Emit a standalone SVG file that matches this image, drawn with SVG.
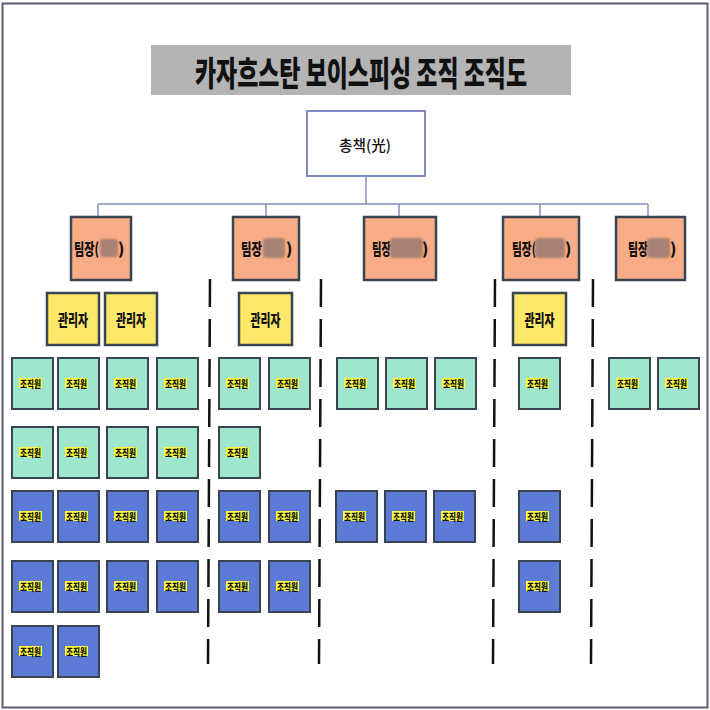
<svg xmlns="http://www.w3.org/2000/svg" width="710" height="710" viewBox="0 0 710 710">
<style>
  text { font-family: "Noto Sans CJK KR", "Noto Sans", sans-serif; font-weight: 700; fill: #111; text-anchor: middle; dominant-baseline: central; }
  .title { font-size: 34px; font-weight: 900; }
  .top { fill: #ffffff; stroke: #7f8cc8; stroke-width: 2; }
  .topt { font-size: 15px; font-weight: 500; }
  .lead { fill: #f9ad86; stroke: #3a4450; stroke-width: 2.5; }
  .leadt { font-size: 16px; font-weight: 900; text-anchor: start; }
  .blur { fill: #a88272; filter: url(#bl); }
  .mgr { fill: #fde86a; stroke: #3a4450; stroke-width: 2.5; }
  .mgrt { font-size: 16px; font-weight: 900; }
  .g { fill: #a0e6cc; stroke: #3a4450; stroke-width: 2; }
  .b { fill: #5b7bd6; stroke: #3a4450; stroke-width: 2; }
  .hl { fill: #ffff3c; }
  .mt { font-size: 10px; font-weight: 900; }
  .conn { stroke: #8890b8; stroke-width: 1.5; fill: none; }
  .dash { stroke: #111; stroke-width: 2.5; stroke-dasharray: 28 12; fill: none; }
</style>
<defs>
  <filter id="bl" x="-30%" y="-30%" width="160%" height="160%"><feGaussianBlur stdDeviation="1"/></filter>
  <g id="mlabel">
    <rect class="hl" x="7" y="20" width="23" height="10"/>
    <text class="mt" x="18.5" y="25" textLength="21" lengthAdjust="spacingAndGlyphs">조직원</text>
  </g>
</defs>
<rect x="2.5" y="3.5" width="705" height="704" fill="#ffffff" stroke="#5a6070" stroke-width="2"/>

<g id="title">
  <rect x="151" y="45" width="420" height="50" fill="#b4b4b4"/>
  <text class="title" x="361" y="71" textLength="332" lengthAdjust="spacingAndGlyphs">카자흐스탄 보이스피싱 조직 조직도</text>
</g>

<g id="connectors">
  <line class="conn" x1="366" y1="176" x2="366" y2="204"/>
  <line class="conn" x1="98" y1="204" x2="648" y2="204"/>
  <line class="conn" x1="98" y1="204" x2="98" y2="217"/>
  <line class="conn" x1="266" y1="204" x2="266" y2="217"/>
  <line class="conn" x1="399" y1="204" x2="399" y2="217"/>
  <line class="conn" x1="540" y1="204" x2="540" y2="217"/>
  <line class="conn" x1="648" y1="204" x2="648" y2="217"/>
  <line class="dash" x1="210" y1="279" x2="208" y2="664"/>
  <line class="dash" x1="321" y1="279" x2="319" y2="664"/>
  <line class="dash" x1="495" y1="279" x2="493" y2="664"/>
  <line class="dash" x1="593" y1="279" x2="591" y2="664"/>
</g>

<g id="boss">
  <rect class="top" x="307" y="111" width="118" height="65"/>
  <text class="topt" x="365" y="144" textLength="52" lengthAdjust="spacingAndGlyphs">총책(光)</text>
</g>

<g id="leader1">
  <rect class="lead" x="71" y="217" width="60" height="63"/>
  <text class="leadt" x="74" y="248" textLength="25" lengthAdjust="spacingAndGlyphs">팀장(</text>
  <rect class="blur" x="100" y="239" width="18" height="18" rx="3"/>
  <text class="leadt" x="118" y="248">)</text>
</g>
<g id="leader2">
  <rect class="lead" x="233" y="217" width="66" height="63"/>
  <text class="leadt" x="241" y="248" textLength="21" lengthAdjust="spacingAndGlyphs">팀장</text>
  <rect class="blur" x="263" y="238" width="22" height="20" rx="3"/>
  <text class="leadt" x="286" y="248">)</text>
</g>
<g id="leader3">
  <rect class="lead" x="364" y="217" width="72" height="63"/>
  <text class="leadt" x="372" y="248" textLength="19" lengthAdjust="spacingAndGlyphs">팀장</text>
  <rect class="blur" x="390" y="238" width="33" height="20" rx="4"/>
  <text class="leadt" x="422" y="248">)</text>
</g>
<g id="leader4">
  <rect class="lead" x="503" y="217" width="76" height="63"/>
  <text class="leadt" x="512" y="248" textLength="24" lengthAdjust="spacingAndGlyphs">팀장(</text>
  <rect class="blur" x="535" y="238" width="30" height="20" rx="4"/>
  <text class="leadt" x="565" y="248">)</text>
</g>
<g id="leader5">
  <rect class="lead" x="616" y="217" width="69" height="63"/>
  <text class="leadt" x="628" y="248" textLength="20" lengthAdjust="spacingAndGlyphs">팀장</text>
  <rect class="blur" x="647" y="238" width="23" height="20" rx="3"/>
  <text class="leadt" x="670" y="248">)</text>
</g>

<g id="manager1"><rect class="mgr" x="47" y="293" width="52" height="52"/><text class="mgrt" x="73" y="319" textLength="30" lengthAdjust="spacingAndGlyphs">관리자</text></g>
<g id="manager2"><rect class="mgr" x="105" y="293" width="52" height="52"/><text class="mgrt" x="131" y="319" textLength="30" lengthAdjust="spacingAndGlyphs">관리자</text></g>
<g id="manager3"><rect class="mgr" x="239" y="293" width="53" height="52"/><text class="mgrt" x="265.5" y="319" textLength="30" lengthAdjust="spacingAndGlyphs">관리자</text></g>
<g id="manager4"><rect class="mgr" x="513" y="293" width="53" height="52"/><text class="mgrt" x="539.5" y="319" textLength="30" lengthAdjust="spacingAndGlyphs">관리자</text></g>

<g id="members-row1">
  <g id="m1-1" transform="translate(12,358)"><rect class="g" width="41" height="51"/><use href="#mlabel"/></g>
  <g id="m1-2" transform="translate(58,358)"><rect class="g" width="41" height="51"/><use href="#mlabel"/></g>
  <g id="m1-3" transform="translate(107,358)"><rect class="g" width="41" height="51"/><use href="#mlabel"/></g>
  <g id="m1-4" transform="translate(157,358)"><rect class="g" width="41" height="51"/><use href="#mlabel"/></g>
  <g id="m1-5" transform="translate(219,358)"><rect class="g" width="41" height="51"/><use href="#mlabel"/></g>
  <g id="m1-6" transform="translate(269,358)"><rect class="g" width="41" height="51"/><use href="#mlabel"/></g>
  <g id="m1-7" transform="translate(337,358)"><rect class="g" width="41" height="51"/><use href="#mlabel"/></g>
  <g id="m1-8" transform="translate(386,358)"><rect class="g" width="41" height="51"/><use href="#mlabel"/></g>
  <g id="m1-9" transform="translate(435,358)"><rect class="g" width="41" height="51"/><use href="#mlabel"/></g>
  <g id="m1-10" transform="translate(519,358)"><rect class="g" width="41" height="51"/><use href="#mlabel"/></g>
  <g id="m1-11" transform="translate(609,358)"><rect class="g" width="41" height="51"/><use href="#mlabel"/></g>
  <g id="m1-12" transform="translate(658,358)"><rect class="g" width="41" height="51"/><use href="#mlabel"/></g>
</g>
<g id="members-row2">
  <g id="m2-1" transform="translate(12,427)"><rect class="g" width="41" height="51"/><use href="#mlabel"/></g>
  <g id="m2-2" transform="translate(58,427)"><rect class="g" width="41" height="51"/><use href="#mlabel"/></g>
  <g id="m2-3" transform="translate(107,427)"><rect class="g" width="41" height="51"/><use href="#mlabel"/></g>
  <g id="m2-4" transform="translate(157,427)"><rect class="g" width="41" height="51"/><use href="#mlabel"/></g>
  <g id="m2-5" transform="translate(219,427)"><rect class="g" width="41" height="51"/><use href="#mlabel"/></g>
</g>
<g id="members-row3">
  <g id="m3-1" transform="translate(12,491)"><rect class="b" width="41" height="51"/><use href="#mlabel"/></g>
  <g id="m3-2" transform="translate(58,491)"><rect class="b" width="41" height="51"/><use href="#mlabel"/></g>
  <g id="m3-3" transform="translate(107,491)"><rect class="b" width="41" height="51"/><use href="#mlabel"/></g>
  <g id="m3-4" transform="translate(157,491)"><rect class="b" width="41" height="51"/><use href="#mlabel"/></g>
  <g id="m3-5" transform="translate(219,491)"><rect class="b" width="41" height="51"/><use href="#mlabel"/></g>
  <g id="m3-6" transform="translate(269,491)"><rect class="b" width="41" height="51"/><use href="#mlabel"/></g>
  <g id="m3-7" transform="translate(336,491)"><rect class="b" width="41" height="51"/><use href="#mlabel"/></g>
  <g id="m3-8" transform="translate(385,491)"><rect class="b" width="41" height="51"/><use href="#mlabel"/></g>
  <g id="m3-9" transform="translate(434,491)"><rect class="b" width="41" height="51"/><use href="#mlabel"/></g>
  <g id="m3-10" transform="translate(519,491)"><rect class="b" width="41" height="51"/><use href="#mlabel"/></g>
</g>
<g id="members-row4">
  <g id="m4-1" transform="translate(12,561)"><rect class="b" width="41" height="51"/><use href="#mlabel"/></g>
  <g id="m4-2" transform="translate(58,561)"><rect class="b" width="41" height="51"/><use href="#mlabel"/></g>
  <g id="m4-3" transform="translate(107,561)"><rect class="b" width="41" height="51"/><use href="#mlabel"/></g>
  <g id="m4-4" transform="translate(157,561)"><rect class="b" width="41" height="51"/><use href="#mlabel"/></g>
  <g id="m4-5" transform="translate(219,561)"><rect class="b" width="41" height="51"/><use href="#mlabel"/></g>
  <g id="m4-6" transform="translate(269,561)"><rect class="b" width="41" height="51"/><use href="#mlabel"/></g>
  <g id="m4-7" transform="translate(519,561)"><rect class="b" width="41" height="51"/><use href="#mlabel"/></g>
</g>
<g id="members-row5">
  <g id="m5-1" transform="translate(12,626)"><rect class="b" width="41" height="51"/><use href="#mlabel"/></g>
  <g id="m5-2" transform="translate(58,626)"><rect class="b" width="41" height="51"/><use href="#mlabel"/></g>
</g>
</svg>
